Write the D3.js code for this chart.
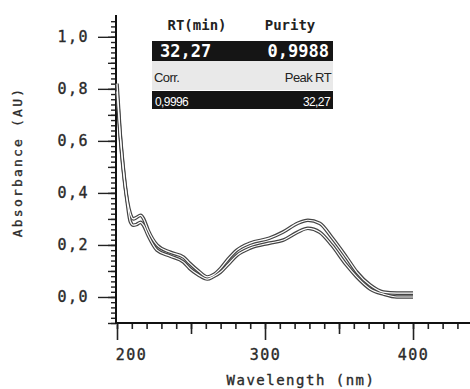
<!DOCTYPE html>
<html>
<head>
<meta charset="utf-8">
<script src="https://cdn.jsdelivr.net/npm/d3@7"></script>
<style>
  body { margin: 0; background: #fff; }
  svg { display: block; }
  .mono { font-family: "DejaVu Sans Mono", "Liberation Mono", monospace; }
</style>
</head>
<body>
<script>
// spectrum, wavelength in nm
const wavelength = [200, 202, 204, 207, 209, 211, 213, 216, 218, 221, 227, 236, 245, 249, 255, 261, 265, 270, 275, 281, 290, 303, 312, 322, 329, 337, 345, 355, 362, 371, 380, 389, 400];
const upper = [0.82, 0.64, 0.51, 0.37, 0.32, 0.30, 0.305, 0.314, 0.30, 0.257, 0.20, 0.172, 0.153, 0.13, 0.10, 0.077, 0.085, 0.11, 0.145, 0.18, 0.207, 0.226, 0.249, 0.283, 0.295, 0.283, 0.23, 0.153, 0.096, 0.046, 0.019, 0.015, 0.015];
const lower = [0.79, 0.63, 0.50, 0.36, 0.29, 0.276, 0.278, 0.287, 0.275, 0.237, 0.18, 0.157, 0.134, 0.11, 0.085, 0.069, 0.078, 0.096, 0.125, 0.16, 0.188, 0.207, 0.218, 0.249, 0.264, 0.249, 0.20, 0.123, 0.077, 0.031, 0.011, 0.0, 0.0];

const yTicks = [0, 0.2, 0.4, 0.6, 0.8, 1.0];
const xTicks = [200, 300, 400];

const tableHead = ["RT(min)", "Purity"];
const tableMain = ["32,27", "0,9988"];
const tableSubHead = ["Corr.", "Peak RT"];
const tableSub = ["0,9996", "32,27"];

const W = 470, H = 389;
const svg = d3.select("body").append("svg")
    .attr("width", W)
    .attr("height", H);

const x = d3.scaleLinear().domain([200, 438.5]).range([117, 470]);
const y = d3.scaleLinear().domain([-0.1, 1.08]).range([323, 16]);

const comma = d => d3.format(".1f")(d).replace(".", ",");

// little helper for the courier-ish labels
function monoText(sel, size, spacing) {
    return sel.attr("class", "mono")
        .attr("font-size", size)
        .attr("letter-spacing", spacing)
        .attr("fill", "#2a2a2a")
        .attr("stroke", "#2a2a2a")
        .attr("stroke-width", 0.35);
}

// y axis: minor, medium, major ticks
const yMinor = d3.range(-0.1, 1.07, 0.02);
const yMid = d3.range(-0.1, 1.07, 0.1);

function yAxis(vals, size, labels) {
    const g = svg.append("g")
        .attr("transform", "translate(116,0)")
        .call(d3.axisLeft(y).tickValues(vals).tickSize(size).tickSizeOuter(0)
            .tickPadding(9).tickFormat(labels ? comma : ""));
    g.select(".domain").remove();
    g.selectAll("line").attr("stroke", "#222").attr("stroke-width", 1.4);
    return g;
}
yAxis(yMinor, 5, false);
yAxis(yMid, 8, false);
const yl = yAxis(yTicks, 18, true);
monoText(yl.selectAll("text"), 15, 1.5);

// x axis
const xMinor = d3.range(200, 439, 10);
const xMid = d3.range(250, 439, 100);

function xAxis(vals, size, labels) {
    const g = svg.append("g")
        .attr("transform", "translate(0,323)")
        .call(d3.axisBottom(x).tickValues(vals).tickSize(size).tickSizeOuter(0)
            .tickPadding(9).tickFormat(labels ? d3.format("d") : ""));
    g.select(".domain").remove();
    g.selectAll("line").attr("stroke", "#222").attr("stroke-width", 1.6);
    return g;
}
xAxis(xMinor, 6, false);
xAxis(xMid, 11, false);
const xl = xAxis(xTicks, 17, true);
monoText(xl.selectAll("text"), 15, 1.5)
    .attr("dx", (d, i) => i === 0 ? 14 : 0);

// axis lines
svg.append("line").attr("x1", 116).attr("x2", 116).attr("y1", 15).attr("y2", 324)
    .attr("stroke", "#111").attr("stroke-width", 2);
svg.append("line").attr("x1", 115).attr("x2", 470).attr("y1", 323).attr("y2", 323)
    .attr("stroke", "#111").attr("stroke-width", 2);

// axis titles
monoText(svg.append("text"), 14, 1.5)
    .attr("x", 301).attr("y", 385)
    .attr("text-anchor", "middle")
    .text("Wavelength (nm)");

monoText(svg.append("text"), 13, 2.2)
    .attr("transform", "translate(22,162) rotate(-90)")
    .attr("text-anchor", "middle")
    .text("Absorbance (AU)");

// spectra drawn as hollow tubes
const line = d3.line()
    .x((d, i) => x(wavelength[i]))
    .y(d => y(d))
    .curve(d3.curveMonotoneX);

[upper, lower].forEach(s => {
    svg.append("path").attr("d", line(s))
        .attr("fill", "none").attr("stroke", "#444").attr("stroke-width", 3.6);
});
[upper, lower].forEach(s => {
    svg.append("path").attr("d", line(s))
        .attr("fill", "none").attr("stroke", "#fff").attr("stroke-width", 1.2);
});

// purity table
const tx0 = 152, tx1 = 333;
tableHead.forEach((t, i) => {
    svg.append("text")
        .attr("class", "mono")
        .attr("x", i === 0 ? 197 : 290).attr("y", 30)
        .attr("text-anchor", "middle")
        .attr("font-size", 14)
        .attr("font-weight", "bold")
        .attr("fill", "#222")
        .text(t);
});
svg.append("rect").attr("x", tx0).attr("y", 41).attr("width", tx1 - tx0).attr("height", 20)
    .attr("fill", "#151515");
tableMain.forEach((t, i) => {
    svg.append("text")
        .attr("class", "mono")
        .attr("x", i === 0 ? 160 : 329).attr("y", 57)
        .attr("text-anchor", i === 0 ? "start" : "end")
        .attr("font-size", 17)
        .attr("font-weight", "bold")
        .attr("fill", "#fff")
        .text(t);
});
svg.append("rect").attr("x", tx0).attr("y", 61).attr("width", tx1 - tx0).attr("height", 29)
    .attr("fill", "#e9e9e9");
tableSubHead.forEach((t, i) => {
    svg.append("text")
        .attr("x", i === 0 ? 154 : 331).attr("y", 82)
        .attr("text-anchor", i === 0 ? "start" : "end")
        .attr("font-family", "Liberation Sans, Arial, sans-serif")
        .attr("font-size", 13)
        .attr("letter-spacing", -0.6)
        .attr("fill", "#222")
        .text(t);
});
svg.append("rect").attr("x", tx0).attr("y", 91).attr("width", tx1 - tx0).attr("height", 18)
    .attr("fill", "#151515");
tableSub.forEach((t, i) => {
    svg.append("text")
        .attr("x", i === 0 ? 155 : 330).attr("y", 106)
        .attr("text-anchor", i === 0 ? "start" : "end")
        .attr("font-family", "Liberation Sans, Arial, sans-serif")
        .attr("font-size", 12)
        .attr("letter-spacing", -0.6)
        .attr("fill", "#fff")
        .text(t);
});
</script>
</body>
</html>
